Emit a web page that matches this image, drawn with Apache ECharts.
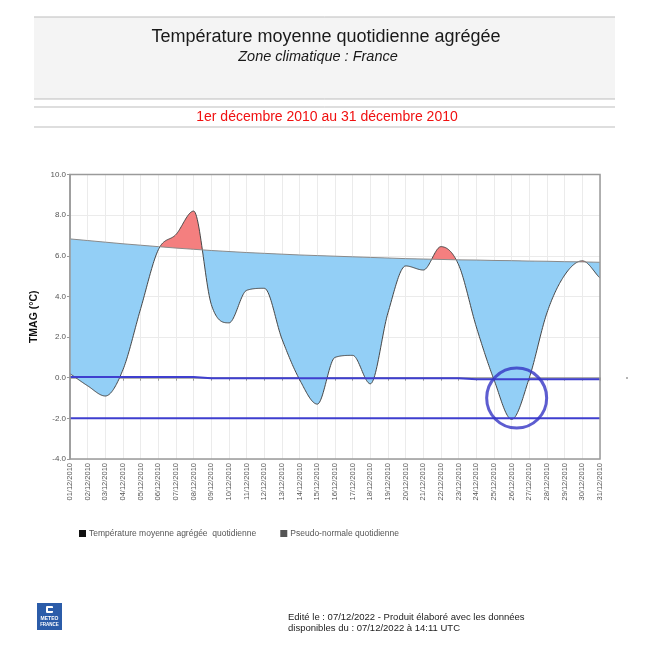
<!DOCTYPE html>
<html>
<head>
<meta charset="utf-8">
<script src="https://cdn.jsdelivr.net/npm/echarts@6/dist/echarts.min.js"></script>
<style>
html,body{margin:0;padding:0;background:#fff;}
#c{width:650px;height:650px;}
</style>
</head>
<body>
<div id="c"></div>
<script>
// ---- data ----
var days = ['01/12/2010','02/12/2010','03/12/2010','04/12/2010','05/12/2010','06/12/2010','07/12/2010','08/12/2010','09/12/2010','10/12/2010','11/12/2010','12/12/2010','13/12/2010','14/12/2010','15/12/2010','16/12/2010','17/12/2010','18/12/2010','19/12/2010','20/12/2010','21/12/2010','22/12/2010','23/12/2010','24/12/2010','25/12/2010','26/12/2010','27/12/2010','28/12/2010','29/12/2010','30/12/2010','31/12/2010'];
var tmag = [0.2, -0.4, -0.9, 0.4, 3.4, 6.3, 7.05, 8.2, 3.6, 2.7, 4.3, 4.4, 1.9, -0.1, -1.3, 1.0, 1.1, -0.3, 3.2, 5.5, 5.3, 6.45, 5.55, 2.5, -0.1, -2.05, 0.0, 3.2, 5.05, 5.75, 4.9];
var normale = [6.83, 6.75, 6.67, 6.59, 6.52, 6.45, 6.38, 6.32, 6.26, 6.21, 6.16, 6.12, 6.08, 6.04, 6.01, 5.98, 5.95, 5.92, 5.89, 5.86, 5.84, 5.82, 5.80, 5.79, 5.77, 5.76, 5.74, 5.73, 5.71, 5.70, 5.68];
var ligneZero = [0.03, 0.03, 0.03, 0.03, 0.03, 0.03, 0.03, 0.03, -0.03, -0.03, -0.03, -0.03, -0.03, -0.03, -0.03, -0.03, -0.03, -0.03, -0.03, -0.03, -0.03, -0.03, -0.03, -0.08, -0.08, -0.08, -0.08, -0.08, -0.08, -0.08, -0.08];
var ligneMoins2 = [-2, -2, -2, -2, -2, -2, -2, -2, -2, -2, -2, -2, -2, -2, -2, -2, -2, -2, -2, -2, -2, -2, -2, -2, -2, -2, -2, -2, -2, -2, -2];
var cercle = [['26/12/2010', -1.0]];
var yTicks = {min: -4, max: 10, interval: 2};
var titre = 'Température moyenne quotidienne agrégée';
var sousTitre = 'Zone climatique : France';
var periode = '1er décembre 2010 au 31 décembre 2010';
var nomTemp = 'Température moyenne agrégée  quotidienne';
var nomNormale = 'Pseudo-normale quotidienne';
var pied1 = 'Edité le : 07/12/2022 - Produit élaboré avec les données';
var pied2 = 'disponibles du : 07/12/2022 à 14:11 UTC';

// ---- chart ----
var FONT = '"Liberation Sans", Arial, sans-serif';
var BLUE = '#93cff6', RED = '#f47f7f';
var chart = echarts.init(document.getElementById('c'), null, {renderer: 'canvas'});

// monotone smooth curve of tmag, filled against the normal line (blue below, red above)
function renderTemp(params, api) {
  if (params.dataIndex !== 0) return null;
  var n = tmag.length, P = [], Q = [], i, k;
  for (i = 0; i < n; i++) {
    P.push(api.coord([i, tmag[i]]));
    Q.push(api.coord([i, normale[i]]));
  }
  var dl = [], m = [];
  for (i = 0; i < n - 1; i++) dl.push((P[i + 1][1] - P[i][1]) / (P[i + 1][0] - P[i][0]));
  m[0] = dl[0]; m[n - 1] = dl[n - 2];
  for (i = 1; i < n - 1; i++) {
    if (dl[i - 1] * dl[i] <= 0) m[i] = 0;
    else m[i] = (dl[i - 1] + dl[i]) / 2;
  }
  for (i = 0; i < n - 1; i++) {
    if (dl[i] === 0) { m[i] = 0; m[i + 1] = 0; continue; }
    var al = m[i] / dl[i], be = m[i + 1] / dl[i], s = al * al + be * be;
    if (s > 9) { var tau = 3 / Math.sqrt(s); m[i] = tau * al * dl[i]; m[i + 1] = tau * be * dl[i]; }
  }
  var N = 24, pts = [];
  for (i = 0; i < n - 1; i++) {
    var p1 = P[i], p2 = P[i + 1], h = p2[0] - p1[0];
    var c1 = [p1[0] + h / 3, p1[1] + m[i] * h / 3];
    var c2 = [p2[0] - h / 3, p2[1] - m[i + 1] * h / 3];
    for (k = (i === 0 ? 0 : 1); k <= N; k++) {
      var t = k / N, u = 1 - t;
      var a = u * u * u, b = 3 * u * u * t, c = 3 * u * t * t, d = t * t * t;
      pts.push([a * p1[0] + b * c1[0] + c * c2[0] + d * p2[0], a * p1[1] + b * c1[1] + c * c2[1] + d * p2[1]]);
    }
  }
  function normY(x) {
    for (var j = 0; j < n - 1; j++) {
      if (x <= Q[j + 1][0] || j === n - 2) {
        var f = (x - Q[j][0]) / (Q[j + 1][0] - Q[j][0]);
        return Q[j][1] + (Q[j + 1][1] - Q[j][1]) * f;
      }
    }
  }
  var top = [], blueLow = [], redHigh = [];
  for (k = 0; k < pts.length; k++) {
    var yn = normY(pts[k][0]);
    top.push([pts[k][0], yn]);
    blueLow.push([pts[k][0], Math.max(pts[k][1], yn)]);
    redHigh.push([pts[k][0], Math.min(pts[k][1], yn)]);
  }
  var bluePoly = top.concat(blueLow.slice().reverse());
  var redPoly = top.concat(redHigh.slice().reverse());
  return {
    type: 'group',
    children: [
      {type: 'polygon', shape: {points: bluePoly}, style: {fill: BLUE, stroke: null}},
      {type: 'polygon', shape: {points: redPoly}, style: {fill: RED, stroke: null}},
      {type: 'polyline', shape: {points: pts}, style: {stroke: '#474747', lineWidth: 1, fill: null}}
    ]
  };
}

var option = {
  animation: false,
  backgroundColor: '#fff',
  textStyle: {fontFamily: FONT},
  graphic: [
    {type: 'rect', shape: {x: 34, y: 17, width: 581, height: 82}, style: {fill: '#f4f4f4'}, z: -10},
    {type: 'line', shape: {x1: 34, y1: 17, x2: 615, y2: 17}, style: {stroke: '#bdbdbd', lineWidth: 1}},
    {type: 'line', shape: {x1: 34, y1: 99, x2: 615, y2: 99}, style: {stroke: '#bdbdbd', lineWidth: 1}},
    {type: 'line', shape: {x1: 34, y1: 107, x2: 615, y2: 107}, style: {stroke: '#bdbdbd', lineWidth: 1}},
    {type: 'line', shape: {x1: 34, y1: 127, x2: 615, y2: 127}, style: {stroke: '#bdbdbd', lineWidth: 1}},
    {type: 'text', style: {text: titre, x: 326, y: 37, textAlign: 'center', textVerticalAlign: 'middle', font: '18px ' + FONT, fill: '#1a1a1a'}},
    {type: 'text', style: {text: sousTitre, x: 318, y: 57, textAlign: 'center', textVerticalAlign: 'middle', font: 'italic 14.5px ' + FONT, fill: '#1a1a1a'}},
    {type: 'text', style: {text: periode, x: 327, y: 117, textAlign: 'center', textVerticalAlign: 'middle', font: '14px ' + FONT, fill: '#f01010'}},
    {type: 'rect', shape: {x: 37, y: 603, width: 25, height: 27}, style: {fill: '#2b5ca9'}},
    {type: 'rect', shape: {x: 46, y: 606, width: 7, height: 7, r: 1}, style: {fill: '#ffffff'}},
    {type: 'rect', shape: {x: 48, y: 608, width: 5, height: 3}, style: {fill: '#2b5ca9'}},
    {type: 'text', style: {text: 'METEO', x: 49.5, y: 619, textAlign: 'center', textVerticalAlign: 'middle', font: 'bold 5px ' + FONT, fill: '#fff'}},
    {type: 'text', style: {text: 'FRANCE', x: 49.5, y: 625, textAlign: 'center', textVerticalAlign: 'middle', font: 'bold 4.5px ' + FONT, fill: '#fff'}},
    {type: 'text', style: {text: pied1, x: 288, y: 617, textAlign: 'left', textVerticalAlign: 'middle', font: '9.5px ' + FONT, fill: '#222'}},
    {type: 'text', style: {text: pied2, x: 288, y: 628, textAlign: 'left', textVerticalAlign: 'middle', font: '9.5px ' + FONT, fill: '#222'}},
    {type: 'circle', shape: {cx: 627, cy: 378, r: 0.8}, style: {fill: '#555'}}
  ],
  legend: {
    left: 74, top: 524, itemWidth: 7, itemHeight: 7, itemGap: 24, icon: 'rect',
    selectedMode: false,
    textStyle: {fontSize: 8.5, color: '#555', fontFamily: FONT, padding: [0, 0, 0, -2]},
    data: [
      {name: nomTemp, itemStyle: {color: '#111'}},
      {name: nomNormale, itemStyle: {color: '#555'}}
    ]
  },
  grid: {left: 70, right: 50, top: 174.5, bottom: 191, show: true, borderColor: '#9a9a9a', borderWidth: 1.5, backgroundColor: 'transparent', z: 4},
  xAxis: {
    type: 'category', data: days, boundaryGap: false,
    axisLine: {lineStyle: {color: '#9a9a9a', width: 1.5}},
    axisTick: {show: true, length: 3, lineStyle: {color: '#9a9a9a'}},
    axisLabel: {rotate: 90, interval: 0, fontSize: 7.5, color: '#555', margin: 4, fontFamily: FONT},
    splitLine: {show: true, lineStyle: {color: '#ebebeb', width: 1}}
  },
  yAxis: {
    type: 'value', min: yTicks.min, max: yTicks.max, interval: yTicks.interval,
    name: 'TMAG (°C)', nameLocation: 'middle', nameGap: 27, nameRotate: 90,
    nameTextStyle: {fontSize: 10.5, fontWeight: 'bold', color: '#111', fontFamily: FONT},
    axisLine: {show: true, lineStyle: {color: '#9a9a9a', width: 1.5}},
    axisTick: {show: true, length: 3, lineStyle: {color: '#9a9a9a'}},
    axisLabel: {fontSize: 8, color: '#555', margin: 4, fontFamily: FONT, formatter: function (v) { return v.toFixed(1); }},
    splitLine: {show: true, lineStyle: {color: '#ebebeb', width: 1}}
  },
  series: [
    {type: 'custom', name: nomTemp, renderItem: renderTemp, clip: true, z: 2,
      data: tmag.map(function (v, i) { return [i, v, normale[i]]; }),
      encode: {x: 0, y: 1}, itemStyle: {color: '#111'}},
    {type: 'line', name: nomNormale, data: normale, smooth: false, symbol: 'none', z: 2,
      lineStyle: {color: '#8a8a8a', width: 1}, itemStyle: {color: '#555'}},
    {type: 'line', data: ligneZero, symbol: 'none', z: 3, silent: true,
      lineStyle: {color: '#3f3fcf', width: 2}},
    {type: 'line', data: ligneMoins2, symbol: 'none', z: 3, silent: true,
      lineStyle: {color: '#3f3fcf', width: 2}},
    {type: 'scatter', data: cercle, symbol: 'circle', symbolSize: 60, symbolOffset: [5, 0], z: 3, silent: true,
      itemStyle: {color: 'rgba(0,0,0,0)', borderColor: '#3434c4', borderWidth: 3}}
  ]
};
chart.setOption(option);
</script>
</body>
</html>
